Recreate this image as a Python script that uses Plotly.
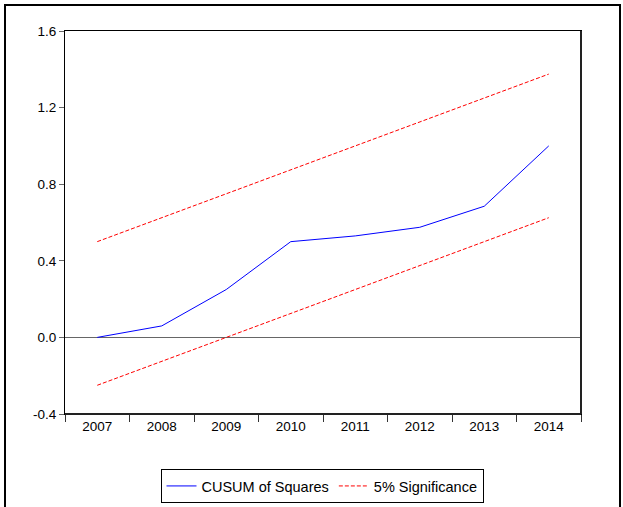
import plotly.graph_objects as go

# Sample years
years = ["2007", "2008", "2009", "2010", "2011", "2012", "2013", "2014"]

# CUSUM of squares statistic
cusum_sq = [0.0, 0.06, 0.25, 0.50, 0.53, 0.575, 0.685, 1.00]

# 5% significance bounds
upper_bound = [0.500, 0.625, 0.750, 0.875, 1.000, 1.125, 1.250, 1.375]
lower_bound = [-0.250, -0.125, 0.000, 0.125, 0.250, 0.375, 0.500, 0.625]

# Y-axis ticks
y_ticks = [-0.4, 0.0, 0.4, 0.8, 1.2, 1.6]
y_tick_text = ["-0.4", "0.0", "0.4", "0.8", "1.2", "1.6"]

fig = go.Figure()

fig.add_trace(go.Scatter(
    x=years, y=cusum_sq, mode="lines", name="CUSUM of Squares",
    line=dict(color="#0000FF", width=1),
))
fig.add_trace(go.Scatter(
    x=years, y=upper_bound, mode="lines", name="5% Significance",
    line=dict(color="#FF0000", width=1, dash="4px,2px"),
))
fig.add_trace(go.Scatter(
    x=years, y=lower_bound, mode="lines", name="5% Significance",
    line=dict(color="#FF0000", width=1, dash="4px,2px"), showlegend=False,
))

W, H = 623, 507
ml, mr, mt, mb = 65, 42, 31, 93
pw, ph = W - ml - mr, H - mt - mb


def px_x(p):
    return (p - ml) / pw


def px_y(p):
    return (H - mb - p) / ph


fig.update_layout(
    width=W, height=H,
    margin=dict(l=ml, r=mr, t=mt, b=mb, pad=0, autoexpand=False),
    paper_bgcolor="white", plot_bgcolor="white",
    font=dict(family="Liberation Sans, Arial, sans-serif", size=13.5, color="black"),
    showlegend=True,
    legend=dict(
        orientation="h", x=px_x(322), xanchor="center",
        yref="container", y=1 - 469 / H, yanchor="top",
        bordercolor="black", borderwidth=1, bgcolor="white",
        font=dict(size=14.5), itemwidth=30, tracegroupgap=0,
    ),
    xaxis=dict(
        type="category", range=[-0.5, 7.5],
        showline=True, linecolor="black", linewidth=1, mirror=True,
        ticks="outside", tickson="boundaries", ticklen=7, tickcolor="#333333",
        showgrid=False, zeroline=False,
    ),
    yaxis=dict(
        range=[-0.4, 1.6], tickvals=y_ticks, ticktext=y_tick_text,
        showline=True, linecolor="black", linewidth=1, mirror=True,
        ticks="outside", ticklen=5, tickcolor="#666666",
        showgrid=False, zeroline=True, zerolinecolor="#666666", zerolinewidth=1,
    ),
    shapes=[
        # outer frame around the whole graphic
        dict(type="rect", xref="paper", yref="paper",
             x0=px_x(5), x1=px_x(620), y0=px_y(530), y1=px_y(5),
             line=dict(color="black", width=2), layer="below"),
        # heavier right and bottom edges of the plot frame
        dict(type="line", xref="paper", yref="paper", x0=1, x1=1, y0=0, y1=1,
             line=dict(color="#222222", width=2)),
        dict(type="line", xref="paper", yref="paper", x0=0, x1=1, y0=0, y1=0,
             line=dict(color="#222222", width=2)),
    ],
)

fig.write_html("out.html")
